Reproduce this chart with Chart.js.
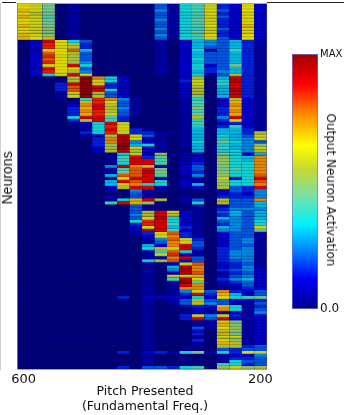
<!DOCTYPE html>
<html>
<head>
<meta charset="utf-8">
<style>
  html, body { margin: 0; padding: 0; background: #fff; }
  body { position: relative; width: 344px; height: 415px; overflow: hidden; color: #111; }
  canvas { position: absolute; }
  #heat { left: 0; top: 0; }
  #bar { left: 270px; top: 40px; }
  .rule { position: absolute; top: 2px; height: 1px; background: #222; }
  .label { position: absolute; white-space: nowrap; text-align: center; transform: translate(-50%, -50%); }
  #neurons { left: 7px; top: 178px; font: 14px "Liberation Sans", sans-serif; transform: translate(-50%, -50%) rotate(-90deg); }
  #activation { left: 331px; top: 190px; font: 12px "DejaVu Sans", sans-serif; transform: translate(-50%, -50%) rotate(90deg); }
  #pitch { left: 145px; top: 398px; font: 12.5px/15px "DejaVu Sans", sans-serif; }
</style>
</head>
<body>
<div class="rule" style="left:2px;width:14px"></div>
<div class="rule" style="left:267px;width:77px"></div>
<canvas id="heat" width="280" height="415"></canvas>
<canvas id="bar" width="74" height="285"></canvas>
<div class="label" id="neurons">Neurons</div>
<div class="label" id="activation">Output Neuron Activation</div>
<div class="label" id="pitch">Pitch Presented<br>(Fundamental Freq.)</div>
<script src="https://cdn.jsdelivr.net/npm/chart.js@4.4.0/dist/chart.umd.min.js"></script>
<script>
'use strict';

const pitchLabels = ['600', '', '', '', '', '', '', '', '', '', '', '', '', '', '', '', '', '', '', '200'];

// one string per neuron, one char per pitch column, 0..k = 0..20 twentieths of max
const rowsTopBand = [
  'dc901 00000 04178 c32d2', 'dc901 00000 04178 c32d2', 'ec901 00000 05178 c42d2', 'db901 00000 04178 d32d2',
  'ec801 00000 04178 c42d2', 'dc901 00000 05179 c32d2', 'dc901 00000 04178 c32d2', 'ec901 00000 04178 d32e2',
  'dca01 00000 05178 c42d2', 'dc901 00000 04179 c32d2', 'eca01 00000 05178 d32d2', 'edb01 00000 04178 c42d2',
];
const rowsSecondBand = [
  '02id7 40000 01026 54631', '02hdb 30000 01026 54631', '02hcb 30000 01026 44631', '01cdg 60000 01027 14831',
  '02gdb 40000 01026 44631', '02hca 40000 01026 44631', '02gdb 40000 01027 44631', '02hda 50000 01026 44631',
  '02cdi 70000 01027 24931', '01idc 40000 01027 34631', '02hdb 50000 01026 35631', '027ci c0000 01027 14b31',
];
const rowsThirdBand = [
  '0000b kf720 0002b 06i31', '0000b kc720 0003c 07j31', '0003i kc320 0002c 08i31', '0003g ki310 0002b 06i31',
  '0003g ki720 0002b 06j31', '0001c kb420 0002b 06i31', '0001c kb420 0002a 06i31', '00000 8hf51 00017 02b21',
  '00001 ehc41 00019 02e21', '00002 fib41 00018 02f21', '00003 eib51 0001a 03e21', '00003 fhb41 00018 03f21',
  '00003 ehc41 00019 03e21', '00007 ii830 0001b 05i21', '00003 bi830 00017 03c21', '00001 27ic0 00018 02321',
  '00000 17hc0 00017 03821', '00000 17ic3 10016 06631',
];
const rowsMiddleBand = [
  '00000 37hc3 31116 0663b', '00000 12bjc 41016 0764c', '00000 03fjd 11016 0765d', '00000 03fj5 21017 09754',
  '00000 03ak6 71016 0765a', '00000 02bkc 21016 0865c', '00000 02bjb 21006 0775b', '00000 0017c 1b111 09726',
  '00000 0018i 38012 0a76f', '00000 0018i i8012 0a76f', '00000 0007i i8013 0a77f', '00000 005if b1024 0977f',
  '00000 0018g i9024 0987f', '00000 0019g ja023 0a77f', '00000 006gg i8015 0a77g', '00000 001ci i1011 0c27i',
  '00000 006ig i7021 0a77g', '00000 006cf 77026 0a77f', '00000 002bi i1012 0b43i', '00000 00105 11000 02435',
  '00000 00004 10000 02325', '00000 00104 10010 03335', '00000 0017e ib014 0b44f', '00000 008ie a1017 0b446',
  '00000 00004 10001 02446', '00000 00004 10001 03555',
];
const rowsLowerBand = [
  '00000 00004 bic21 04646', '00000 00005 bib21 03646', '00000 00004 cj721 06546', '00000 00007 hi721 04547',
  '00000 00003 hi821 03547', '00000 00002 ci631 0654c', '00000 00002 ji821 05548', '00000 00001 3cg31 02441',
  '00000 00000 2cf31 02441', '00000 00000 15gc3 02451', '00000 00000 14fc4 02451', '00000 00000 62fi4 02441',
  '00000 00000 7eci3 03451', '00000 00000 18g71 03551', '00000 00000 1ch21 03551', '00000 00000 12fi4 03551',
  '00000 00000 7bg24 03451', '00000 00000 112cg 02341', '00000 00000 106jf 02351', '00000 00000 105jf 03452',
  '00000 00000 101jg 01342', '00000 00000 10cce 02452', '00000 00000 108jc 03562', '00000 00000 102k8 02342',
  '00000 00000 101if 01242', '00000 00000 101ff 01132',
];
const rowsBottomBand = [
  '00000 00000 1015c 4f324', '00000 00000 1013i 3e624', '00000 00030 22227 2d789', '00000 00000 1014b 44223',
  '00000 00000 1014b 54114', '00000 00000 10013 2e713', '00000 00000 10002 1f714', '00000 00000 10012 11215',
  '00000 00000 1003c 5c312', '00000 00000 1003i 4i212', '00000 00000 10001 1c912', '00000 00000 10001 1ea12',
  '00000 00000 10004 1da12', '00000 00000 10002 0ba12', '00000 00000 10003 0e912', '00000 00000 10001 0cc12',
  '00000 00000 10003 0ca12', '00000 00000 10001 0eb12', '00000 00000 10001 0bb34', '00000 00000 10010 04344',
  '00000 00030 23179 173dc', '00000 00000 10000 01225', '00000 00000 10010 01334', '00000 00000 10000 01744',
  '00000 00000 10000 08734', '00000 00030 44378 0acab',
];
const colorStops = [
  [0, '#00008c'], [0.12, '#0000f5'], [0.22, '#0078ff'], [0.33, '#00f0ff'], [0.45, '#80e0a0'],
  [0.55, '#c8d830'], [0.64, '#ffff00'], [0.76, '#ff9000'], [0.88, '#ff0000'], [1, '#a00000'],
];

const neuronRows = [...rowsTopBand, ...rowsSecondBand, ...rowsThirdBand, ...rowsMiddleBand, ...rowsLowerBand, ...rowsBottomBand];

function hexToRgb(hex) {
  return [1, 3, 5].map(i => parseInt(hex.slice(i, i + 2), 16));
}

// piecewise jet lookup, v in 0..1, shade < 1 dims the colour
function jet(v, shade = 1) {
  let i = 1;
  while (i < colorStops.length - 1 && v > colorStops[i][0]) i++;
  const [p0, c0] = colorStops[i - 1];
  const [p1, c1] = colorStops[i];
  const t = (v - p0) / (p1 - p0);
  const a = hexToRgb(c0), b = hexToRgb(c1);
  return `rgb(${a.map((x, k) => Math.round((x + (b[k] - x) * t) * shade)).join(',')})`;
}

function rowValues(row) {
  return [...row.replace(/ /g, '')].map(ch => parseInt(ch, 36) / 20);
}

// navy behind the cells so the sub-pixel seams stay dark
const backdrop = {
  id: 'backdrop',
  beforeDatasetsDraw(chart) {
    const { ctx, chartArea: a } = chart;
    ctx.save();
    ctx.fillStyle = '#000070';
    ctx.fillRect(a.left, a.top, a.width, a.height);
    ctx.restore();
  },
};

Chart.defaults.animation = false;
Chart.defaults.responsive = false;
Chart.defaults.plugins.legend.display = false;
Chart.defaults.plugins.tooltip.enabled = false;

// stacked bars: one dataset per neuron, coloured by activation
new Chart(document.getElementById('heat'), {
  type: 'bar',
  plugins: [backdrop],
  data: {
    labels: pitchLabels,
    datasets: neuronRows.map(row => ({
      data: pitchLabels.map(() => 1),
      backgroundColor: rowValues(row).map(v => jet(v, 0.88)),
      borderColor: rowValues(row).map(v => jet(v, 0.72)),
      borderWidth: { top: 0, left: 0, right: 0, bottom: 1 },
      borderSkipped: false,
      barPercentage: 1,
      categoryPercentage: 1,
    })),
  },
  options: {
    layout: { padding: { left: 17.5, right: 13.3, top: 3 } },
    scales: {
      x: {
        stacked: true,
        afterFit: s => { s.height = 46; },
        grid: { display: false, drawTicks: false },
        border: { color: '#a0a0b8', width: 1 },
        ticks: { autoSkip: false, maxRotation: 0, padding: 3, color: '#111', font: { family: 'DejaVu Sans', size: 13 } },
      },
      y: {
        stacked: true,
        reverse: true,
        min: 0,
        max: neuronRows.length,
        afterFit: s => { s.width = 0; },
        ticks: { display: false, stepSize: neuronRows.length },
        grid: { color: c => (c.tick.value === 0 ? '#a0a0b8' : 'transparent'), drawTicks: false, z: 1 },
        border: { color: '#a0a0b8', width: 1 },
      },
    },
  },
});

// colour bar, single gradient bar on a 0..1 axis
new Chart(document.getElementById('bar'), {
  type: 'bar',
  data: {
    labels: [''],
    datasets: [{
      data: [1],
      barPercentage: 1,
      categoryPercentage: 1,
      borderWidth: 1,
      borderColor: '#6a78c8',
      borderSkipped: false,
      backgroundColor: ctx => {
        const a = ctx.chart.chartArea;
        if (!a) return '#000';
        const g = ctx.chart.ctx.createLinearGradient(0, a.bottom, 0, a.top);
        colorStops.forEach(([p, c]) => g.addColorStop(p, c));
        return g;
      },
    }],
  },
  options: {
    layout: { padding: { left: 22, top: 14, bottom: 16 } },
    scales: {
      x: { display: false },
      y: {
        position: 'right',
        min: 0,
        max: 1,
        afterFit: s => { s.width = 26; },
        grid: { display: false, drawTicks: false },
        border: { display: false },
        ticks: {
          stepSize: 1,
          padding: 2,
          color: '#111',
          callback: v => (v === 1 ? 'MAX' : '0.0'),
          font: c => ({ family: 'DejaVu Sans', size: c.tick?.value === 1 ? 10 : 12 }),
        },
      },
    },
  },
});
</script>
</body>
</html>
